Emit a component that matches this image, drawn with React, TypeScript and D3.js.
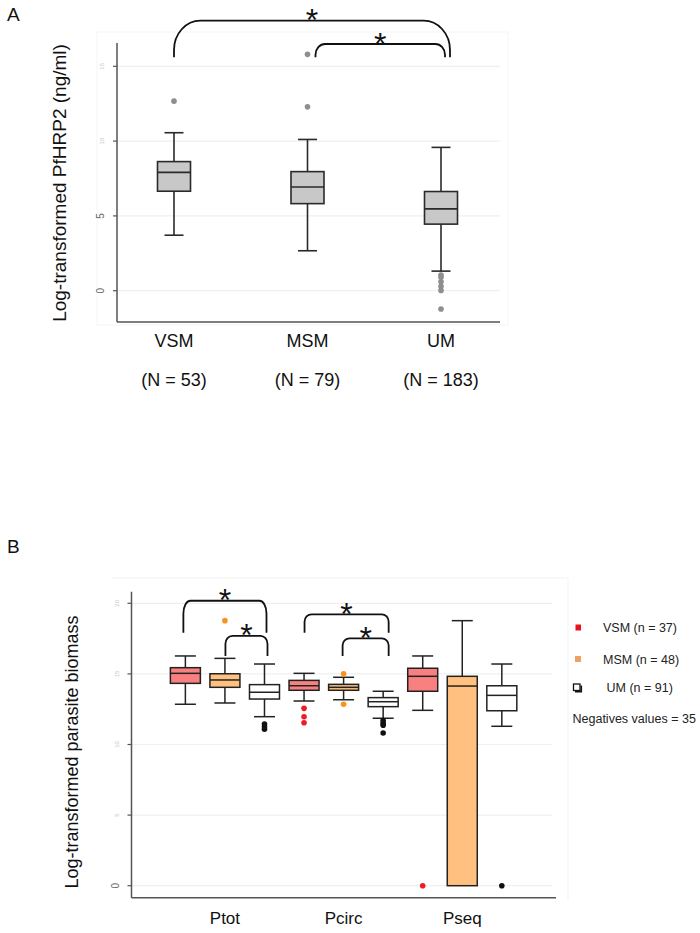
import React from "react";
import * as d3 from "d3";

// ---------- Panel A data ----------
const catsA = ["VSM", "MSM", "UM"];
const nLabelsA = ["(N = 53)", "(N = 79)", "(N = 183)"];
// [lowWhisker, q1, median, q3, highWhisker]
const statsA = [
  [3.71, 6.65, 7.91, 8.63, 10.56],
  [2.67, 5.82, 6.93, 7.96, 10.11],
  [1.31, 4.45, 5.47, 6.63, 9.58],
];
const outliersA = [[12.67], [12.29, 15.8], [1.05, 0.9, 0.6, 0.3, 0.02, -1.22]];
const ticksA = [0, 5, 10, 15];
const bracketsA = [
  { from: "VSM", to: "UM", top: 18.05, bottom: 15.6, dx1: 0, dx2: 9 },
  { from: "MSM", to: "UM", top: 16.49, bottom: 15.6, dx1: 8, dx2: 4 },
];

// ---------- Panel B data ----------
const groupsB = ["Ptot", "Pcirc", "Pseq"];
const seriesB = ["VSM", "MSM", "UM"];
const legendLabelsB = ["VSM (n = 37)", "MSM (n = 48)", "UM (n = 91)"];
const ptotStats = [
  [12.85, 14.33, 15.04, 15.44, 16.27],
  [12.94, 14.05, 14.57, 15.01, 16.1],
  [11.97, 13.22, 13.7, 14.24, 15.7],
];
const pcircStats = [
  [13.08, 13.84, 14.16, 14.54, 15.04],
  [13.17, 13.84, 14.05, 14.26, 14.76],
  [11.86, 12.68, 13.03, 13.32, 13.77],
];
const pseqStats = [
  [12.42, 13.77, 14.83, 15.4, 16.27],
  [0, 0, 14.14, 14.83, 18.77],
  [11.29, 12.39, 13.48, 14.16, 15.7],
];
const ptotOutliers = [[], [18.77], [11.45, 11.26, 11.08]];
const pcircOutliers = [[12.56, 11.97, 11.54], [15.01, 12.85], [11.69, 11.5, 11.36, 10.81]];
const pseqOutliers = [[0], [], [0]];
const ticksB = [0, 5, 10, 15, 20];
const bracketsB = [
  { group: "Ptot", from: "VSM", to: "UM", top: 20.18, bottom: 17.92, dx1: -2, dx2: 2 },
  { group: "Ptot", from: "MSM", to: "UM", top: 17.7, bottom: 16.27, dx1: 0.5, dx2: 3 },
  { group: "Pcirc", from: "VSM", to: "UM", top: 19.22, bottom: 17.92, dx1: 0.5, dx2: 5.5 },
  { group: "Pcirc", from: "MSM", to: "UM", top: 17.52, bottom: 16.27, dx1: -1, dx2: 5.5 },
];
const negativesLabel = "Negatives values = 35";

const FONT = "'Liberation Sans', Arial, Helvetica, sans-serif";
const fillsB = ["#F88080", "#FFC080", "#FFFFFF"];
const outlierFillsB = ["#EE1C25", "#F7941D", "#111111"];
const legendSwatch = ["#E8141C", "#F2A060", "#FFFFFF"];

function bracketPath(x1: number, x2: number, yt: number, yb: number, rx: number, ry: number) {
  return `M${x1},${yb} V${yt + ry} A${rx},${ry} 0 0 1 ${x1 + rx},${yt} H${x2 - rx} A${rx},${ry} 0 0 1 ${x2},${yt + ry} V${yb}`;
}

function Box({ cx, stats, y, w, capW, fill, stroke, sw }: any) {
  const [lo, q1, med, q3, hi] = stats;
  return (
    <g>
      {hi > q3 && <line x1={cx} x2={cx} y1={y(q3)} y2={y(hi)} stroke={stroke} strokeWidth={sw} />}
      {lo < q1 && <line x1={cx} x2={cx} y1={y(q1)} y2={y(lo)} stroke={stroke} strokeWidth={sw} />}
      {hi > q3 && <line x1={cx - capW / 2} x2={cx + capW / 2} y1={y(hi)} y2={y(hi)} stroke={stroke} strokeWidth={sw} />}
      {lo < q1 && <line x1={cx - capW / 2} x2={cx + capW / 2} y1={y(lo)} y2={y(lo)} stroke={stroke} strokeWidth={sw} />}
      <rect x={cx - w / 2} y={y(q3)} width={w} height={y(q1) - y(q3)} fill={fill} stroke={stroke} strokeWidth={sw} />
      <line x1={cx - w / 2} x2={cx + w / 2} y1={y(med)} y2={y(med)} stroke={stroke} strokeWidth={sw} />
    </g>
  );
}

export default function App() {
  // Panel A scales
  const xA = d3.scalePoint<string>().domain(catsA).range([174, 441]);
  const yA = d3.scaleLinear().domain([0, 15]).range([290.7, 66.3]);
  const axA = { left: 117, right: 500, top: 43, bottom: 322 };

  // Panel B scales
  const xG = d3.scaleBand<string>().domain(groupsB).range([165.6, 521.6]).padding(0);
  const xS = d3.scaleBand<string>().domain(seriesB).range([0, xG.bandwidth()]).padding(0);
  const cxB = (g: string, s: string) => (xG(g) as number) + (xS(s) as number) + xS.bandwidth() / 2;
  const yB = d3.scaleLinear().domain([0, 20]).range([885.7, 603.3]);
  const axB = { left: 131.5, right: 552, top: 591.7, bottom: 897.7 };
  const statsB = [ptotStats, pcircStats, pseqStats];
  const outB = [ptotOutliers, pcircOutliers, pseqOutliers];

  const grid = "#EBF0F2";
  const axisC = "#555";

  return (
    <svg width={700} height={933} style={{ position: "absolute", left: 0, top: 0, background: "#fff" }} fontFamily={FONT}>
      <rect x={0} y={0} width={700} height={933} fill="#fff" />
      {/* ================= Panel A ================= */}
      <text x={7} y={21} fontSize={19} fill="#111">A</text>
      <rect x={97} y={32} width={411} height={293} fill="none" stroke="#F5F5F5" strokeWidth={1} />
      {ticksA.map((t) => (
        <line key={"ga" + t} x1={axA.left} x2={axA.right} y1={yA(t)} y2={yA(t)} stroke={grid} strokeWidth={1.2} />
      ))}
      {ticksA.map((t) => (
        <g key={"ta" + t}>
          <line x1={axA.left - 4} x2={axA.left} y1={yA(t)} y2={yA(t)} stroke={axisC} strokeWidth={1.2} />
          <text
            transform={`translate(${axA.left - 13},${yA(t)}) rotate(-90)`}
            textAnchor="middle"
            fontSize={t < 10 ? 10 : 6}
            fill={t < 10 ? "#666" : "#C8C8C8"}
          >
            {t}
          </text>
        </g>
      ))}
      <line x1={axA.left} x2={axA.left} y1={axA.top} y2={axA.bottom} stroke={axisC} strokeWidth={1.5} />
      <line x1={axA.left} x2={axA.right} y1={axA.bottom} y2={axA.bottom} stroke={axisC} strokeWidth={1.5} />
      {catsA.map((c, i) => (
        <g key={"ba" + c}>
          <Box cx={xA(c)} stats={statsA[i]} y={yA} w={33} capW={19} fill="#C8C8C8" stroke="#2a2a2a" sw={1.6} />
          {outliersA[i].map((v, j) => (
            <circle key={j} cx={xA(c)} cy={yA(v)} r={2.8} fill="#8E8E8E" />
          ))}
          <text x={xA(c)} y={347} textAnchor="middle" fontSize={18} fill="#111">{c}</text>
          <text x={xA(c)} y={386} textAnchor="middle" fontSize={18} fill="#111">{nLabelsA[i]}</text>
        </g>
      ))}
      {bracketsA.map((b, i) => {
        const x1 = (xA(b.from) as number) + b.dx1;
        const x2 = (xA(b.to) as number) + b.dx2;
        const yt = yA(b.top);
        const yb = yA(b.bottom);
        const ry = Math.min((yb - yt) * 0.8, 30);
        const rx = ry * 0.9;
        return (
          <g key={"bra" + i}>
            <path d={bracketPath(x1, x2, yt, yb, rx, ry)} fill="none" stroke="#111" strokeWidth={1.8} />
            <text x={(x1 + x2) / 2} y={yt - 7.5 + 18} textAnchor="middle" fontSize={32} fill="#111">*</text>
          </g>
        );
      })}
      <text transform={`translate(66,183) rotate(-90)`} textAnchor="middle" fontSize={19} fill="#111">
        Log-transformed PfHRP2 (ng/ml)
      </text>

      {/* ================= Panel B ================= */}
      <text x={7} y={553} fontSize={19} fill="#111">B</text>
      <path d={`M111,578 H568 V900`} fill="none" stroke="#F3F3F3" strokeWidth={1} />
      {ticksB.map((t) => (
        <line key={"gb" + t} x1={axB.left} x2={axB.right} y1={yB(t)} y2={yB(t)} stroke={grid} strokeWidth={1.2} />
      ))}
      {ticksB.map((t) => (
        <g key={"tb" + t}>
          <line x1={axB.left - 4} x2={axB.left} y1={yB(t)} y2={yB(t)} stroke={axisC} strokeWidth={1.2} />
          <text
            transform={`translate(${axB.left - 13},${yB(t)}) rotate(-90)`}
            textAnchor="middle"
            fontSize={t === 0 ? 10 : 6}
            fill={t === 0 ? "#666" : "#C8C8C8"}
          >
            {t}
          </text>
        </g>
      ))}
      <line x1={axB.left} x2={axB.left} y1={axB.top} y2={axB.bottom} stroke={axisC} strokeWidth={1.5} />
      <line x1={axB.left} x2={556} y1={axB.bottom} y2={axB.bottom} stroke={axisC} strokeWidth={1.5} />
      {groupsB.map((g, gi) => (
        <g key={"g" + g}>
          {seriesB.map((s, si) => (
            <g key={s}>
              <Box cx={cxB(g, s)} stats={statsB[gi][si]} y={yB} w={30} capW={21} fill={fillsB[si]} stroke="#222" sw={1.5} />
              {outB[gi][si].map((v, j) => (
                <circle key={j} cx={cxB(g, s)} cy={yB(v)} r={2.8} fill={outlierFillsB[si]} />
              ))}
            </g>
          ))}
          <text x={cxB(g, "MSM")} y={924} textAnchor="middle" fontSize={17} fill="#111">{g}</text>
        </g>
      ))}
      {bracketsB.map((b, i) => {
        const x1 = cxB(b.group, b.from) + b.dx1;
        const x2 = cxB(b.group, b.to) + b.dx2;
        const yt = yB(b.top);
        const yb = yB(b.bottom);
        const ry = Math.min((yb - yt) * 0.4, 13);
        const rx = 7;
        return (
          <g key={"brb" + i}>
            <path d={bracketPath(x1, x2, yt, yb, rx, ry)} fill="none" stroke="#111" strokeWidth={1.8} />
            <text x={(x1 + x2) / 2} y={yt - 7.5 + 18} textAnchor="middle" fontSize={32} fill="#111">*</text>
          </g>
        );
      })}
      <text transform={`translate(78,752) rotate(-90)`} textAnchor="middle" fontSize={18} fill="#111">
        Log-transformed parasite biomass
      </text>

      {/* Legend */}
      <rect x={575.5} y={624.5} width={5.5} height={6} fill={legendSwatch[0]} />
      <text x={603} y={631.5} fontSize={12.5} fill="#222">{legendLabelsB[0]}</text>
      <rect x={575} y={656} width={6} height={6} fill={legendSwatch[1]} />
      <text x={603} y={664} fontSize={12.5} fill="#222">{legendLabelsB[1]}</text>
      <rect x={573.5} y={684} width={6.5} height={6.5} fill="#fff" stroke="#111" strokeWidth={1.3} />
      <path d="M575,691.8 H581.3 V685.5" fill="none" stroke="#111" strokeWidth={1.6} />
      <text x={606.5} y={692} fontSize={12.5} fill="#222">{legendLabelsB[2]}</text>
      <text x={572.5} y={722.5} fontSize={12.5} fill="#222">{negativesLabel}</text>
    </svg>
  );
}
